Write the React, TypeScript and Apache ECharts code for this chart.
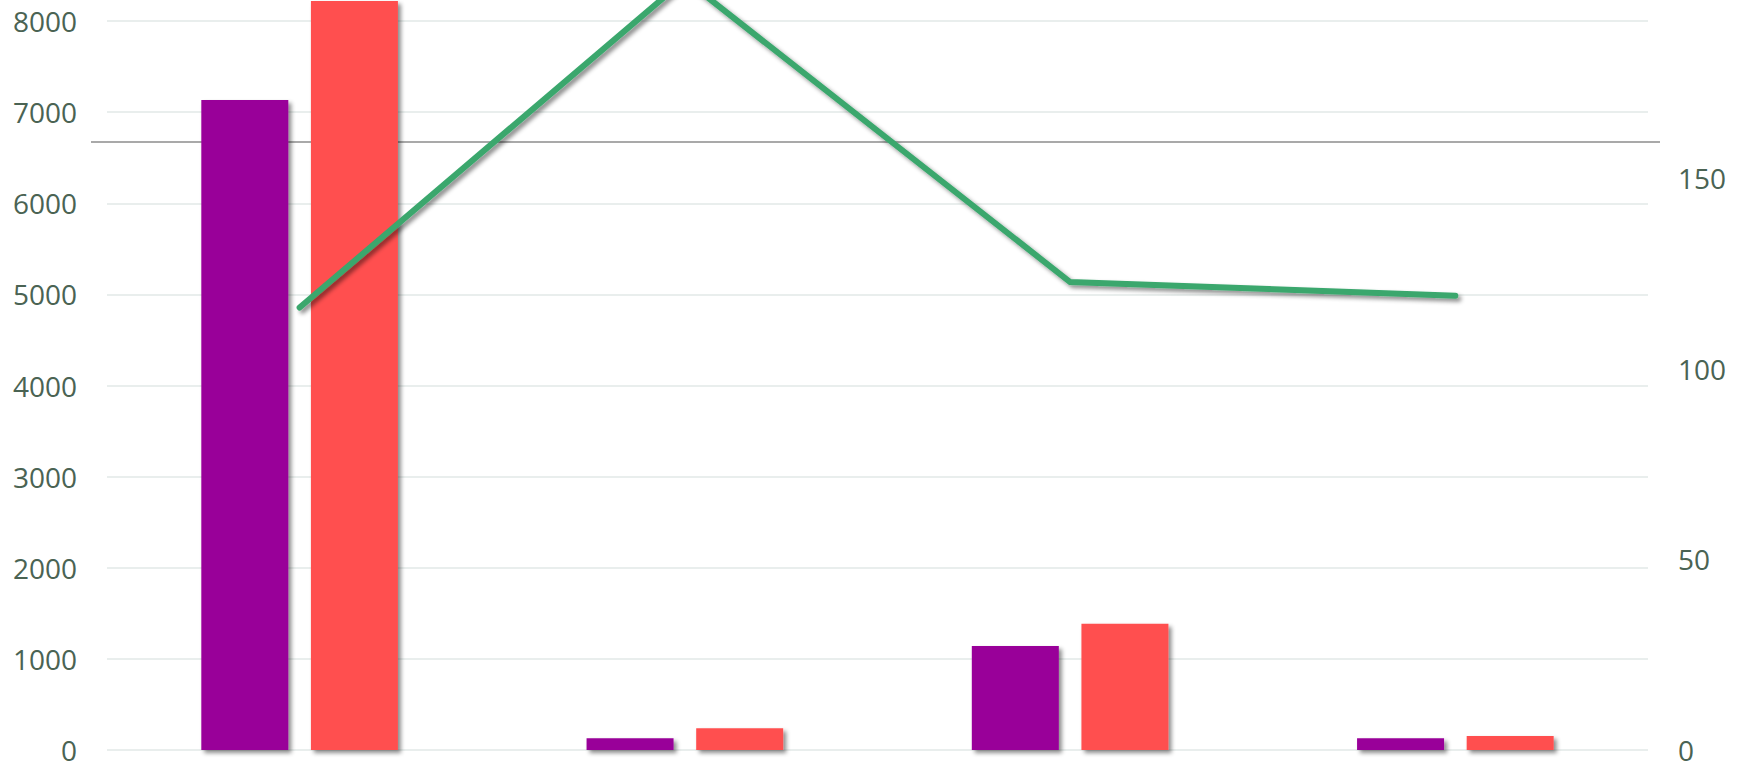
import React, { useEffect, useRef } from "react";
import * as echarts from "echarts";

const categories = ["Q1", "Q2", "Q3", "Q4"];
const seriesA = [7135, 130, 1141, 130];
const seriesB = [8220, 240, 1385, 155];
const lineValues = [116, 202, 122.7, 119.1];
const leftTicks = { min: 0, max: 9000, interval: 1000 };
const rightTicks = { min: 0, max: 215, interval: 50 };
const rightVisibleMax = 150;

const OFFSET = 70;

export default function App() {
  const ref = useRef<HTMLDivElement>(null);
  useEffect(() => {
    if (!ref.current) return;
    const chart = echarts.init(ref.current, null, { renderer: "svg" });
    const labelStyle = {
      color: "#4A6353",
      fontSize: 28,
      fontFamily: "Open Sans",
      margin: 30,
    };
    chart.setOption({
      animation: false,
      backgroundColor: "#ffffff",
      grid: { left: 107, right: 94, top: 0, bottom: 13.3, containLabel: false },
      xAxis: {
        type: "category",
        data: categories,
        axisLine: { show: false },
        axisTick: { show: false },
        axisLabel: { show: false },
      },
      yAxis: [
        {
          type: "value",
          min: leftTicks.min,
          max: leftTicks.max,
          interval: leftTicks.interval,
          axisLine: { show: false },
          axisTick: { show: false },
          axisLabel: {
            ...labelStyle,
            showMaxLabel: false,
            formatter: (v: number) => String(v),
          },
          splitLine: { lineStyle: { color: "#E2E9E7", width: 1.5 } },
        },
        {
          type: "value",
          min: rightTicks.min,
          max: rightTicks.max,
          interval: rightTicks.interval,
          position: "right",
          axisLine: { show: false },
          axisTick: { show: false },
          axisLabel: {
            ...labelStyle,
            showMaxLabel: false,
            formatter: (v: number) => (v > rightVisibleMax ? "" : String(v)),
          },
          splitLine: { show: false },
        },
      ],
      graphic: [
        {
          type: "line",
          z: 0,
          shape: { x1: 91, y1: 142 + OFFSET, x2: 1660, y2: 142 + OFFSET },
          style: { stroke: "#8C8C8C", lineWidth: 1.5 },
        },
      ],
      series: [
        {
          type: "bar",
          data: seriesA,
          barWidth: 87,
          barGap: "26%",
          itemStyle: {
            color: "#990099",
            shadowColor: "rgba(0,0,0,0.45)",
            shadowBlur: 4,
            shadowOffsetX: 3,
            shadowOffsetY: 3,
          },
          z: 3,
        },
        {
          type: "bar",
          data: seriesB,
          barWidth: 87,
          barGap: "26%",
          itemStyle: {
            color: "#FF5050",
            shadowColor: "rgba(0,0,0,0.45)",
            shadowBlur: 4,
            shadowOffsetX: 3,
            shadowOffsetY: 3,
          },
          z: 3,
        },
        {
          type: "line",
          yAxisIndex: 1,
          data: lineValues,
          showSymbol: false,
          symbol: "none",
          lineStyle: {
            color: "#3AA76D",
            width: 6,
            cap: "round",
            join: "miter",
            shadowColor: "rgba(0,0,0,0.45)",
            shadowBlur: 4,
            shadowOffsetX: 3,
            shadowOffsetY: 3,
          },
          z: 4,
        },
      ],
    });
    return () => chart.dispose();
  }, []);
  return (
    <div
      ref={ref}
      style={{
        position: "absolute",
        left: 0,
        top: -OFFSET,
        width: 1742,
        height: 764 + OFFSET,
      }}
    />
  );
}
